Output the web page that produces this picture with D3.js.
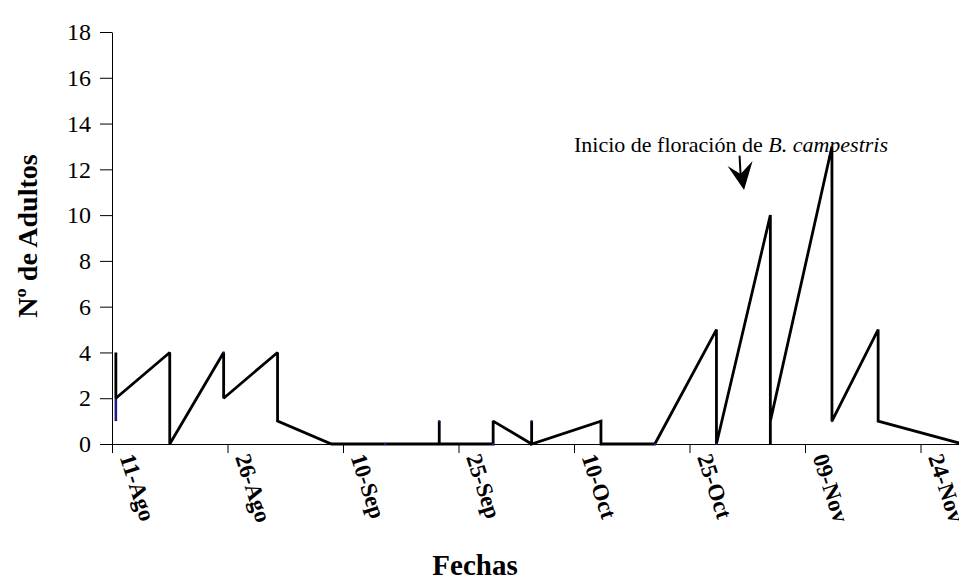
<!DOCTYPE html>
<html>
<head>
<meta charset="utf-8">
<script src="https://cdn.jsdelivr.net/npm/d3@7"></script>
<style>
  body { margin: 0; background: #fff; }
  svg { display: block; font-family: "Liberation Serif", "Times New Roman", serif; }
  svg text { font-family: "Liberation Serif", "Times New Roman", serif; }
</style>
</head>
<body>
<div id="chart"></div>
<script>
// serie principal (negra), fechas repetidas = tramos verticales
var fechas = ["2003-08-11","2003-08-11","2003-08-18","2003-08-18","2003-08-25","2003-08-25",
    "2003-09-01","2003-09-01","2003-09-08","2003-09-15","2003-09-22","2003-09-22","2003-09-22",
    "2003-09-29","2003-09-29","2003-10-04","2003-10-04","2003-10-04","2003-10-13","2003-10-13",
    "2003-10-20","2003-10-28","2003-10-28","2003-11-04","2003-11-04","2003-11-04",
    "2003-11-12","2003-11-12","2003-11-18","2003-11-18","2003-11-29"];
var adultos = [4,2,4,0,4,2,4,1,0,0,0,1,0,0,1,0,1,0,1,0,0,5,0,10,0,1,13,1,5,1,0];

// segunda serie (azul), casi toda tapada por la negra
var fechasAzul = ["2003-08-11","2003-08-11"];
var adultosAzul = [2,1];
var fechasPuntosAzul = ["2003-08-25","2003-09-15","2003-09-22","2003-09-29","2003-10-04","2003-10-20","2003-10-28","2003-11-12"];
var puntosAzul = [4,0,1,0,1,0,0,1];

var tickFechas = ["2003-08-11","2003-08-26","2003-09-10","2003-09-25","2003-10-10","2003-10-25","2003-11-09","2003-11-24"];
var tickEtiquetas = ["11-Ago","26-Ago","10-Sep","25-Sep","10-Oct","25-Oct","09-Nov","24-Nov"];
var yTicks = [0,2,4,6,8,10,12,14,16,18];

var parse = d3.timeParse("%Y-%m-%d");

var width = 959, height = 580;
var margin = {top: 32, right: 0, bottom: 136, left: 112};

var svg = d3.select("#chart")
    .append("svg")
    .attr("width", width)
    .attr("height", height);

var x = d3.scaleTime()
    .domain([parse("2003-08-11"), parse("2003-11-29")])
    .range([margin.left, width - margin.right]);

var y = d3.scaleLinear()
    .domain([0, 18])
    .range([height - margin.bottom, margin.top]);

// los puntos caen a mitad de dia
function xPos(s) { return x(d3.timeHour.offset(parse(s), 12)); }

var xAxis = d3.axisBottom(x)
    .tickValues(tickFechas.map(parse))
    .tickFormat(function(d, i){ return tickEtiquetas[i]; })
    .tickSizeInner(9)
    .tickSizeOuter(0);

var yAxis = d3.axisLeft(y)
    .tickValues(yTicks)
    .tickSizeInner(12)
    .tickSizeOuter(0)
    .tickPadding(9);

var gx = svg.append("g")
    .attr("transform", "translate(0," + y(0) + ")")
    .call(xAxis)
    .attr("font-family", null);
gx.selectAll("path, line").attr("stroke", "#000").attr("stroke-width", 1);
gx.selectAll("text")
    .attr("font-size", 23)
    .attr("font-weight", "bold")
    .attr("fill", "#000")
    .attr("text-anchor", "start")
    .attr("dy", null)
    .attr("y", null)
    .attr("transform", "translate(7,13) rotate(72)");

var gy = svg.append("g")
    .attr("transform", "translate(" + margin.left + ",0)")
    .call(yAxis)
    .attr("font-family", null);
gy.selectAll("path, line").attr("stroke", "#000").attr("stroke-width", 1);
gy.selectAll("text")
    .attr("font-size", 24)
    .attr("fill", "#000");

var line = d3.line()
    .x(function(d){ return xPos(d.f); })
    .y(function(d){ return y(d.v); });

var datos = fechas.map(function(f, i){ return {f: f, v: adultos[i]}; });
var datosAzul = fechasAzul.map(function(f, i){ return {f: f, v: adultosAzul[i]}; });
var puntos = fechasPuntosAzul.map(function(f, i){ return {f: f, v: puntosAzul[i]}; });

svg.append("path")
    .datum(datosAzul)
    .attr("fill", "none")
    .attr("stroke", "#1c1c8a")
    .attr("stroke-width", 2.6)
    .attr("d", line);

svg.append("path")
    .datum(datos)
    .attr("fill", "none")
    .attr("stroke", "#000")
    .attr("stroke-width", 2.8)
    .attr("stroke-linejoin", "miter")
    .attr("stroke-miterlimit", 2)
    .attr("d", line);

svg.append("g")
    .selectAll("rect")
    .data(puntos).enter()
    .append("rect")
    .attr("x", function(d){ return xPos(d.f) - 1; })
    .attr("y", function(d){ return y(d.v) - 1; })
    .attr("width", 2)
    .attr("height", 2)
    .attr("fill", "#1c1c8a");

// titulos de ejes
svg.append("text")
    .attr("x", 475)
    .attr("y", 575)
    .attr("text-anchor", "middle")
    .attr("font-size", 29)
    .attr("font-weight", "bold")
    .text("Fechas");

svg.append("text")
    .attr("transform", "translate(37,236) rotate(-90)")
    .attr("text-anchor", "middle")
    .attr("font-size", 28)
    .attr("font-weight", "bold")
    .text("Nº de Adultos");

// anotacion: inicio de floracion
var nota = svg.append("text")
    .attr("x", x(parse("2003-10-10")))
    .attr("y", y(12.75))
    .attr("font-size", 22)
    .attr("fill", "#000");
nota.append("tspan").text("Inicio de floración de ");
nota.append("tspan").attr("font-style", "italic").text("B. campestris");

var ax = xPos("2003-10-31"), ayTop = y(12.6), ayTip = y(11.1);
svg.append("line")
    .attr("x1", ax).attr("y1", ayTop)
    .attr("x2", ax + 1).attr("y2", ayTip - 16)
    .attr("stroke", "#000")
    .attr("stroke-width", 2);
svg.append("path")
    .attr("d", "M" + (ax + 4.5) + "," + ayTip +
        "L" + (ax - 12) + "," + (ayTip - 24) +
        "L" + (ax + 1) + "," + (ayTip - 16) +
        "L" + (ax + 13) + "," + (ayTip - 29) + "Z")
    .attr("fill", "#000");
</script>
</body>
</html>
